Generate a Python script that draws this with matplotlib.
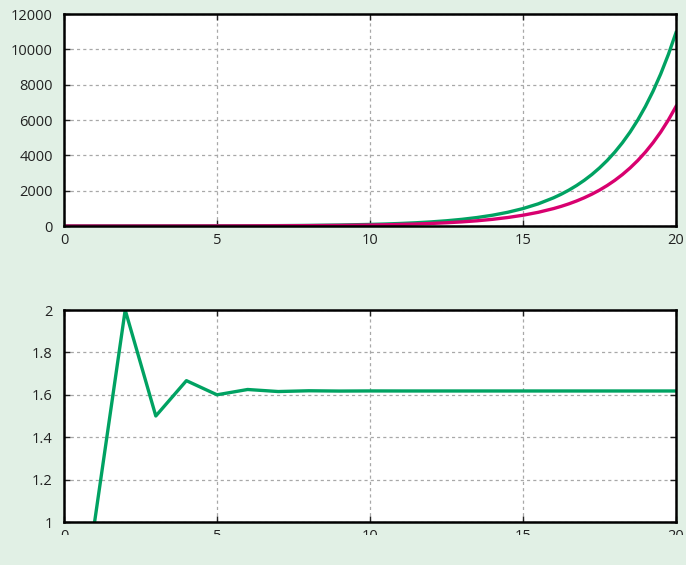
import matplotlib
matplotlib.use("Agg")
from matplotlib import pyplot
from matplotlib.patches import Rectangle

# top chart: two growing series (green, pink)
x_top = [0, 1, 2, 3, 4, 5, 6, 7, 8, 9, 10, 10.5, 11, 11.5, 12, 12.5, 13, 13.5, 14, 14.5,
         15, 15.5, 16, 16.25, 16.5, 16.75, 17, 17.25, 17.5, 17.75, 18, 18.25, 18.5, 18.75,
         19, 19.25, 19.5, 19.75, 20]
pink = [0, 1, 1, 2, 3, 5, 8, 13, 21, 34, 55, 70, 89, 113, 144, 183, 233, 296, 377, 480,
        610, 776, 987, 1113, 1255, 1416, 1597, 1801, 2031, 2291, 2584, 2914, 3287, 3707,
        4181, 4716, 5318, 5998, 6765]
green = [1, 1, 2, 3, 5, 8, 13, 21, 34, 55, 89, 113, 144, 183, 233, 296, 377, 480, 610, 776,
         987, 1255, 1597, 1801, 2031, 2291, 2584, 2914, 3287, 3707, 4181, 4716, 5318, 5998,
         6765, 7630, 8606, 9706, 10946]

# bottom chart: ratio series
x_ratio = list(range(1, 21))
ratio = [1, 2, 1.5, 1.6667, 1.6, 1.625, 1.6154, 1.619, 1.6176, 1.6182,
         1.618, 1.618, 1.618, 1.618, 1.618, 1.618, 1.618, 1.618, 1.618, 1.618]

x_ticks = [0, 5, 10, 15, 20]
top_yticks = [0, 2000, 4000, 6000, 8000, 10000, 12000]
bot_yticks = [1, 1.2, 1.4, 1.6, 1.8, 2]
bot_ylabels = ['1', '1.2', '1.4', '1.6', '1.8', '2']

bg = '#e1f0e5'
col_green = '#00a262'
col_pink = '#d8006f'

pyplot.rcParams['font.family'] = ['Open Sans', 'DejaVu Sans']

fig = pyplot.figure(figsize=(6.86, 5.65), dpi=100, facecolor=bg)
ax1 = fig.add_axes([64/686, 1 - 226/565, 612/686, 212/565])
ax2 = fig.add_axes([64/686, 1 - 522/565, 612/686, 212/565])


def style(ax):
    ax.set_facecolor('white')
    for s in ax.spines.values():
        s.set_linewidth(1.8)
        s.set_color('black')
    ax.grid(True, color='#a8a8a8', linestyle=(0, (2.5, 2.5)), linewidth=0.9)
    ax.tick_params(direction='in', length=4, width=1, top=True, right=True,
                   labelsize=10.5, colors='#222222')
    ax.tick_params(axis='x', pad=5)
    ax.tick_params(axis='y', pad=8)
    ax.set_axisbelow(True)
    ax.set_xlim(0, 20)
    ax.set_xticks(x_ticks)


style(ax1)
ax1.plot(x_top, green, color=col_green, lw=2.4, solid_joinstyle='round')
ax1.plot(x_top, pink, color=col_pink, lw=2.4, solid_joinstyle='round')
ax1.set_ylim(0, 12000)
ax1.set_yticks(top_yticks)

style(ax2)
ax2.plot(x_ratio, ratio, color=col_green, lw=2.4)
ax2.set_ylim(1, 2)
ax2.set_yticks(bot_yticks)
ax2.set_yticklabels(bot_ylabels)

# the bottom labels are cut off in the original
fig.patches.append(Rectangle((0, 0), 1, 1 - 535/565, transform=fig.transFigure,
                             facecolor=bg, edgecolor='none', zorder=10))

pyplot.savefig('out.png', dpi=100, facecolor=bg)
